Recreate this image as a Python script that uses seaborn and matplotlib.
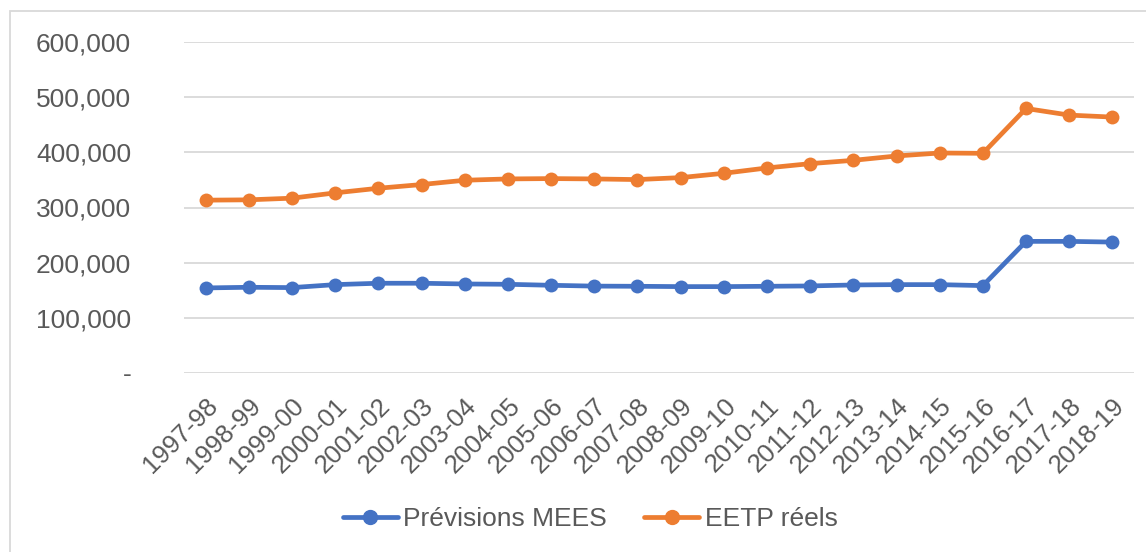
import pandas as pd
import matplotlib
matplotlib.use("Agg")
import matplotlib.pyplot as plt
import matplotlib.patches as mpatches
from matplotlib.ticker import FuncFormatter
import seaborn as sns

# Chart data
years = ["1997-98", "1998-99", "1999-00", "2000-01", "2001-02", "2002-03",
         "2003-04", "2004-05", "2005-06", "2006-07", "2007-08", "2008-09",
         "2009-10", "2010-11", "2011-12", "2012-13", "2013-14", "2014-15",
         "2015-16", "2016-17", "2017-18", "2018-19"]
previsions_mees = [154200, 155400, 154800, 160200, 162700, 162700, 161400,
                   160800, 159000, 157500, 157200, 156600, 156600, 157200,
                   157800, 159600, 160200, 160200, 158400, 238600, 238600,
                   237300]
eetp_reels = [313300, 313900, 316900, 326500, 334900, 341600, 349400, 351800,
              352400, 351800, 350600, 354200, 362000, 371700, 379500, 385500,
              393400, 398800, 398200, 479500, 467500, 463900]
series_names = ["Prévisions MEES", "EETP réels"]
colors = ["#4472C4", "#ED7D31"]

df = pd.DataFrame({"year": years, "idx": range(len(years)),
                   series_names[0]: previsions_mees,
                   series_names[1]: eetp_reels})
long_df = df.melt(id_vars=["year", "idx"], var_name="series", value_name="value")

sns.set_theme(style="white")
plt.rcParams["font.family"] = ["Liberation Sans", "DejaVu Sans"]
text_color = "#595959"
fs = 18.5

fig = plt.figure(figsize=(11.46, 5.52), dpi=100)
ax = fig.add_axes([184 / 1146, 1 - 373 / 552, (1134 - 184) / 1146, (373 - 42) / 552])

sns.lineplot(data=long_df, x="idx", y="value", hue="series",
             palette=dict(zip(series_names, colors)), marker="o",
             markersize=10, markeredgewidth=0, linewidth=3.4, ax=ax,
             legend=False)

ax.set_xlim(-0.5, len(years) - 0.5)
ax.set_ylim(0, 600000)
ax.set_yticks(range(0, 600001, 100000))
ax.yaxis.set_major_formatter(FuncFormatter(lambda v, p: "-" if v == 0 else f"{int(v):,}"))
ax.set_xticks(range(len(years)))
ax.set_xticklabels(years, rotation=45, ha="right", rotation_mode="anchor")
ax.grid(axis="y", color="#D9D9D9", linewidth=1.3)
ax.set_axisbelow(True)
for s in ax.spines.values():
    s.set_visible(False)
ax.tick_params(axis="y", length=0, pad=38, labelsize=19, labelcolor=text_color)
ax.tick_params(axis="x", length=0, pad=15, labelsize=fs, labelcolor=text_color)
ax.set_xlabel("")
ax.set_ylabel("")

# Legend
handles = [plt.Line2D([], [], color=c, marker="o", markersize=10, linewidth=3.4)
           for c in colors]
fig.legend(handles, series_names, loc="center", bbox_to_anchor=(590 / 1146, 1 - 519 / 552),
           ncol=2, frameon=False, fontsize=19, labelcolor=text_color,
           handlelength=2.1, handletextpad=0.2, columnspacing=1.4)

# Chart area border
fig.patches.append(mpatches.Rectangle((10 / 1146, -0.02), 1.0, (552 - 11) / 552 + 0.02,
                                      transform=fig.transFigure, fill=False,
                                      edgecolor="#D9D9D9", linewidth=1.3))

fig.savefig("out.png", dpi=100)
